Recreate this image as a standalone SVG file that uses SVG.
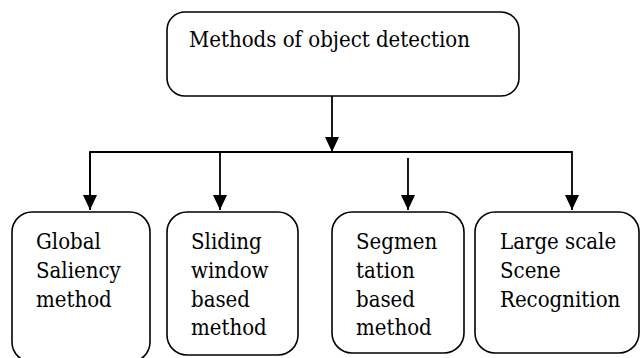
<svg xmlns="http://www.w3.org/2000/svg" width="642" height="358" viewBox="0 0 642 358">
<style>
.box{fill:#fff;stroke:#000;stroke-width:1.6}
.ln{fill:none;stroke:#000;stroke-width:1.8}
text{font-family:'DejaVu Serif Condensed','DejaVu Serif',serif;font-stretch:condensed;font-size:22px;fill:#000}
</style>
<defs>
<marker id="ah" viewBox="0 0 15 14" refX="15" refY="7" markerWidth="15" markerHeight="14" markerUnits="userSpaceOnUse" orient="auto">
<path d="M0,0 L15,7 L0,14 Z" fill="#000"/>
</marker>
</defs>
<rect width="642" height="358" fill="#fff"/>
<g id="connectors">
<line class="ln" x1="332" y1="96" x2="332" y2="152" marker-end="url(#ah)"/>
<polyline class="ln" points="90,209 90,152 572,152 572,210" marker-end="url(#ah)"/>
<line class="ln" x1="90" y1="152" x2="90" y2="210" marker-end="url(#ah)"/>
<line class="ln" x1="220" y1="152" x2="220" y2="210" marker-end="url(#ah)"/>
<line class="ln" x1="408" y1="158" x2="408" y2="210" marker-end="url(#ah)"/>
</g>
<g id="root">
<rect class="box" x="167" y="12" width="352" height="84" rx="18"/>
<text x="189" y="47">Methods of object detection</text>
</g>
<g id="global">
<rect class="box" x="12" y="212" width="138" height="150" rx="20"/>
<text x="36" y="249">Global</text>
<text x="36" y="278">Saliency</text>
<text x="36" y="307">method</text>
</g>
<g id="sliding">
<rect class="box" x="167" y="212" width="131" height="143" rx="20"/>
<text x="191" y="249">Sliding</text>
<text x="191" y="278">window</text>
<text x="191" y="307">based</text>
<text x="191" y="335">method</text>
</g>
<g id="segmentation">
<rect class="box" x="332" y="212" width="132" height="141" rx="20"/>
<text x="356" y="249">Segmen</text>
<text x="356" y="278">tation</text>
<text x="356" y="307">based</text>
<text x="356" y="335">method</text>
</g>
<g id="large">
<rect class="box" x="475" y="212" width="164" height="141" rx="20"/>
<text x="500" y="249">Large scale</text>
<text x="500" y="278">Scene</text>
<text x="500" y="307">Recognition</text>
</g>
</svg>
